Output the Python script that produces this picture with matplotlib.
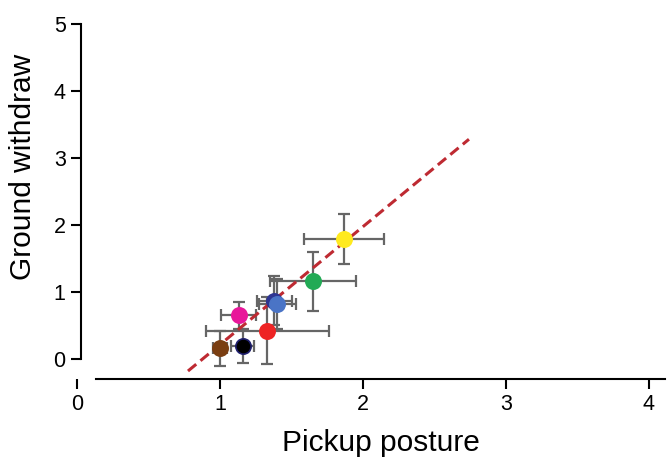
import matplotlib
matplotlib.use('Agg')
import matplotlib.pyplot as plt

plt.rcParams['font.family'] = ['Liberation Sans', 'DejaVu Sans']

# group means and SEM
colors = ['#7A3E12', '#000000', '#EE2424', '#E8179A', '#2E3592', '#4A74C6', '#22AA55', '#FFEA1F']
edges = ['#7A3E12', '#1F1F6E', '#EE2424', '#E8179A', '#2E3592', '#4A74C6', '#22AA55', '#FFEA1F']
pickup = [1.00, 1.16, 1.33, 1.13, 1.38, 1.40, 1.65, 1.87]
withdraw = [0.16, 0.19, 0.42, 0.65, 0.87, 0.82, 1.16, 1.79]
pickup_err = [0.05, 0.08, 0.43, 0.125, 0.12, 0.13, 0.30, 0.28]
withdraw_err = [0.26, 0.25, 0.50, 0.20, 0.37, 0.37, 0.44, 0.37]

# regression line ends
fit_x = [0.776, 2.741]
fit_y = [-0.18, 3.28]

xticks = [0, 1, 2, 3, 4]
yticks = [0, 1, 2, 3, 4, 5]

fig = plt.figure(figsize=(6.68, 4.57), dpi=100)
ax = fig.add_axes([60/668, 1-379/457, 605/668, 359/457])

for i in range(len(pickup)):
    ax.errorbar(pickup[i], withdraw[i], xerr=pickup_err[i], yerr=withdraw_err[i],
                fmt='none', ecolor='#666666', elinewidth=1.6, capsize=4.5, capthick=1.6, zorder=2)
for i in range(len(pickup)):
    ax.plot(pickup[i], withdraw[i], 'o', color=colors[i], markeredgecolor=edges[i],
            markeredgewidth=1.2, markersize=11, zorder=4)

ax.plot(fit_x, fit_y, color='#BE2A32', linestyle=(0, (3.5, 1.8)), linewidth=2.2, zorder=3)

ax.set_xlim(-0.119, 4.112)
ax.set_ylim(-0.299, 5.06)
ax.set_xticks(xticks)
ax.set_yticks(yticks)

ax.spines['top'].set_visible(False)
ax.spines['right'].set_visible(False)
ax.spines['left'].set_position(('data', 0.028))
ax.spines['left'].set_bounds(0, 5)
ax.spines['bottom'].set_bounds(0.133, 4.112)
for s in ['left', 'bottom']:
    ax.spines[s].set_linewidth(1.5)
ax.tick_params(axis='both', direction='out', length=7, width=1.5, labelsize=15.5, pad=4)

ax.set_xlabel('Pickup posture', fontsize=21.5)
ax.set_ylabel('Ground withdraw', fontsize=21.5)
ax.xaxis.set_label_coords(0.531, -0.138)
ax.yaxis.set_label_coords(-0.038, 0.59)

plt.savefig('out.png', dpi=100)
